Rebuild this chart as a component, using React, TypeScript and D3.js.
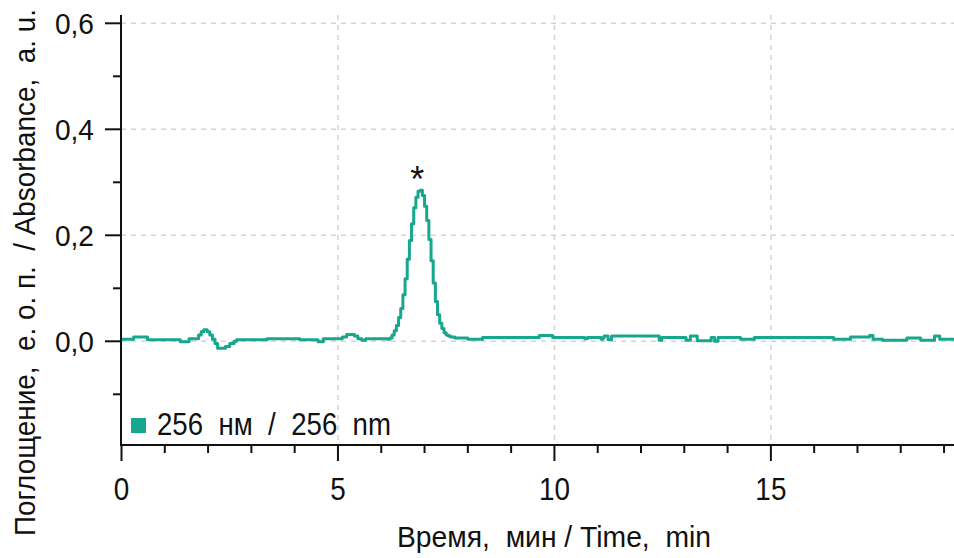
import React from "react";
import * as d3 from "d3";

const W = 954;
const H = 558;

// Retention time (min) and absorbance (a.u.)
const timeMin: number[] = [
  0, 0.28, 0.6, 1.36, 1.56, 1.78, 1.84, 1.9, 1.98, 2.04, 2.1, 2.16, 2.22, 2.4, 2.5, 2.6, 2.66,
  3.36, 4.12, 4.54, 4.66, 5.1, 5.2, 5.38, 5.46, 5.55, 5.64, 6.15,
  6.2, 6.25, 6.3, 6.35, 6.4, 6.45, 6.5, 6.55, 6.6, 6.65, 6.7, 6.75, 6.8, 6.85, 6.9, 6.95,
  7.0, 7.05, 7.1, 7.15, 7.2, 7.25, 7.3, 7.35, 7.4, 7.45, 7.5, 7.55, 7.6, 7.7,
  8.0, 8.34, 9.65, 9.96, 10.7, 10.76, 11.08, 11.12, 11.15, 11.24, 11.32, 12.42, 12.48,
  13.04, 13.14, 13.3, 13.62, 13.7, 13.78, 14.3, 14.62, 16.45, 16.84, 17.28, 17.36, 17.58,
  18.14, 18.46, 18.78, 18.9, 19.23,
];
const absorbance: number[] = [
  0.004, 0.008, 0.003, -0.001, 0.005, 0.012, 0.018, 0.022, 0.018, 0.012, 0.004, -0.004, -0.013, -0.01, -0.004, 0.0, 0.003,
  0.005, 0.003, -0.001, 0.005, 0.008, 0.013, 0.01, 0.005, 0.002, 0.005, 0.004,
  0.006, 0.012, 0.02, 0.03, 0.045, 0.062, 0.088, 0.118, 0.155, 0.19, 0.222, 0.252, 0.272, 0.283, 0.285, 0.275,
  0.255, 0.228, 0.192, 0.152, 0.11, 0.075, 0.05, 0.034, 0.024, 0.016, 0.012, 0.01, 0.008, 0.006,
  0.004, 0.007, 0.011, 0.007, 0.005, 0.007, 0.004, 0.007, 0.01, 0.003, 0.01, 0.002, 0.007,
  0.002, 0.01, 0.001, 0.007, 0.0, 0.007, 0.004, 0.007, 0.004, 0.008, 0.011, 0.004, 0.002,
  0.006, 0.002, 0.01, 0.004, 0.004,
];

const xMajorTicks = [0, 5, 10, 15];
const xMinorTicks = [1, 2, 3, 4, 6, 7, 8, 9, 11, 12, 13, 14, 16, 17, 18, 19];
const yMajorTicks = [0, 0.2, 0.4, 0.6];
const yMinorTicks = [-0.1, 0.1, 0.3, 0.5];

const peakLabel = { t: 6.9, v: 0.285, text: "*" };
const legendLabel = "256  нм  /  256  nm";
const xTitle = "Время,  мин / Time,  min";
const yTitle = "Поглощение,  е. о. п.  / Absorbance,  a. u.";

const TEAL = "#17a68e";
const FONT = "'Liberation Sans', Arial, sans-serif";

export default function App() {
  const x = d3.scaleLinear().domain([0, 19.23]).range([121.5, 954]);
  const y = d3.scaleLinear().domain([0, 0.6]).range([341.3, 23.3]);
  const yBottom = 445;
  const yTop = 15;
  const xLeft = 121;

  const pts: [number, number][] = timeMin.map((t, i) => [t, absorbance[i]]);
  const line = d3
    .line<[number, number]>()
    .x((d) => x(d[0]))
    .y((d) => y(d[1]))
    .curve(d3.curveStepAfter);

  const fmt = (v: number) => v.toFixed(1).replace(".", ",");

  return (
    <svg
      width={W}
      height={H}
      style={{ position: "absolute", left: 0, top: 0, background: "#fff" }}
      fontFamily={FONT}
    >
      {/* grid */}
      {xMajorTicks.filter((t) => t > 0).map((t) => (
        <line key={"gx" + t} x1={x(t)} x2={x(t)} y1={yTop} y2={yBottom} stroke="#d4d4d4" strokeWidth={1.5} strokeDasharray="5,5" />
      ))}
      {yMajorTicks.map((v) => (
        <line key={"gy" + v} x1={xLeft} x2={W} y1={y(v)} y2={y(v)} stroke="#d4d4d4" strokeWidth={1.5} strokeDasharray="5,5" />
      ))}

      {/* data */}
      <path d={line(pts) || ""} fill="none" stroke={TEAL} strokeWidth={3} strokeLinejoin="round" />

      {/* axes */}
      <line x1={xLeft} x2={xLeft} y1={yTop} y2={yBottom + 1} stroke="#111" strokeWidth={2} />
      <line x1={xLeft} x2={W} y1={yBottom} y2={yBottom} stroke="#111" strokeWidth={2} />

      {yMajorTicks.map((v) => (
        <g key={"ym" + v}>
          <line x1={105} x2={xLeft} y1={y(v)} y2={y(v)} stroke="#111" strokeWidth={2} />
          <text
            transform={`translate(94, ${y(v)}) scale(0.97, 1)`}
            dy="0.36em"
            textAnchor="end"
            fontSize={29}
            fill="#111"
          >
            {fmt(v)}
          </text>
        </g>
      ))}
      {yMinorTicks.map((v) => (
        <line key={"yn" + v} x1={113} x2={xLeft} y1={y(v)} y2={y(v)} stroke="#111" strokeWidth={2} />
      ))}

      {xMajorTicks.map((t) => (
        <g key={"xm" + t}>
          <line x1={x(t)} x2={x(t)} y1={yBottom} y2={461} stroke="#111" strokeWidth={2} />
          <text
            transform={`translate(${x(t)}, 500) scale(0.9, 1)`}
            textAnchor="middle"
            fontSize={31}
            fill="#111"
          >
            {t}
          </text>
        </g>
      ))}
      {xMinorTicks.map((t) => (
        <line key={"xn" + t} x1={x(t)} x2={x(t)} y1={yBottom} y2={453} stroke="#111" strokeWidth={2} />
      ))}

      {/* peak marker */}
      <text x={x(peakLabel.t) - 3} y={y(peakLabel.v) + 2} textAnchor="middle" fontSize={36} fill="#111">
        {peakLabel.text}
      </text>

      {/* legend */}
      <rect x={131} y={418} width={15} height={15} fill={TEAL} />
      <text
        x={157}
        y={435}
        fontSize={32}
        fill="#111"
        textLength={234}
        lengthAdjust="spacingAndGlyphs"
        style={{ whiteSpace: "pre" }}
      >
        {legendLabel}
      </text>

      {/* titles */}
      <text
        x={397}
        y={547}
        fontSize={30}
        fill="#111"
        textLength={314}
        lengthAdjust="spacingAndGlyphs"
        style={{ whiteSpace: "pre" }}
      >
        {xTitle}
      </text>
      <text
        transform={`translate(35, 536) rotate(-90)`}
        fontSize={30}
        fill="#111"
        textLength={527}
        lengthAdjust="spacingAndGlyphs"
        style={{ whiteSpace: "pre" }}
      >
        {yTitle}
      </text>
    </svg>
  );
}
